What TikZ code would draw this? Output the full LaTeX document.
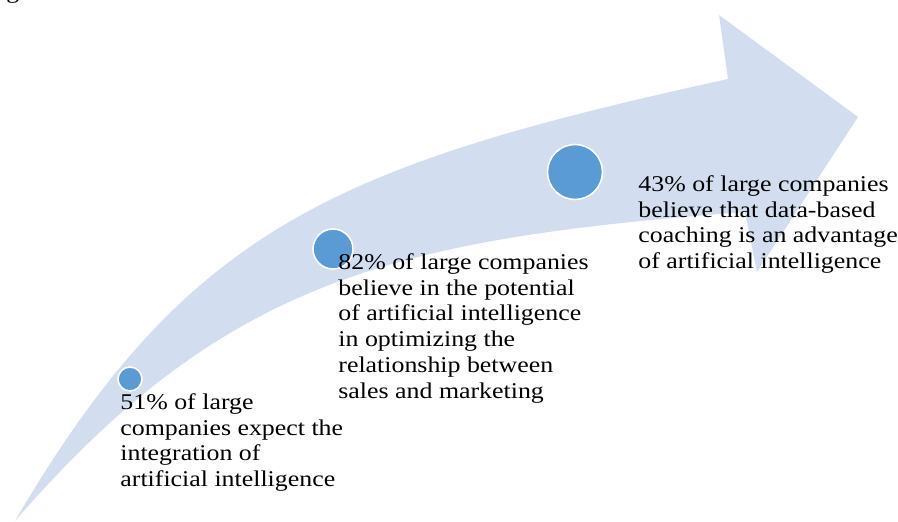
\documentclass[tikz,border=0pt]{standalone}
\usepackage{fontspec}
\setmainfont{Liberation Serif}
\newfontfamily\statfont[FakeStretch=1.15]{Liberation Serif}

\definecolor{arrowfill}{RGB}{210,222,239}
\definecolor{bubbleblue}{RGB}{91,155,213}

\tikzset{
  bubble/.style={circle, fill=bubbleblue, draw=white, line width=0.8pt, inner sep=0pt},
  stat/.style={anchor=north west, inner sep=0pt, align=left, font=\statfont\fontsize{11.25}{12.9}\selectfont},
}

\begin{document}
\begin{tikzpicture}[x=0.5pt,y=-0.5pt]
\useasboundingbox (0,0) rectangle (898,522);

%Shape: Curved Right Arrow
\fill[arrowfill] (15,521) .. controls (187,227) and (336,165) .. (728,79) -- (719,15) -- (858,117) -- (757,272) -- (745,212) .. controls (398.5,238.6) and (226.5,277) .. (15,521) -- cycle;

%Shape: Circles
\node[bubble, minimum size=12pt] (c51) at (130,379) {};
\node[bubble, minimum size=20pt] (c82) at (333,249) {};
\node[bubble, minimum size=27.5pt] (c43) at (575,172) {};

% Text Node
\node[anchor=base west, inner sep=0pt, font=\statfont\fontsize{11.25}{12.9}\selectfont] (capfrag) at (6,-1) {g};
% Text Node
\node[stat] (t51) at (120,393) {51\% of large\\companies expect the\\integration of\\artificial intelligence};
% Text Node
\node[stat] (t82) at (338,253) {82\% of large companies\\believe in the potential\\of artificial intelligence\\in optimizing the\\relationship between\\sales and marketing};
% Text Node
\node[stat] (t43) at (638,175) {43\% of large companies\\believe that data-based\\coaching is an advantage\\of artificial intelligence};
\end{tikzpicture}
\end{document}
